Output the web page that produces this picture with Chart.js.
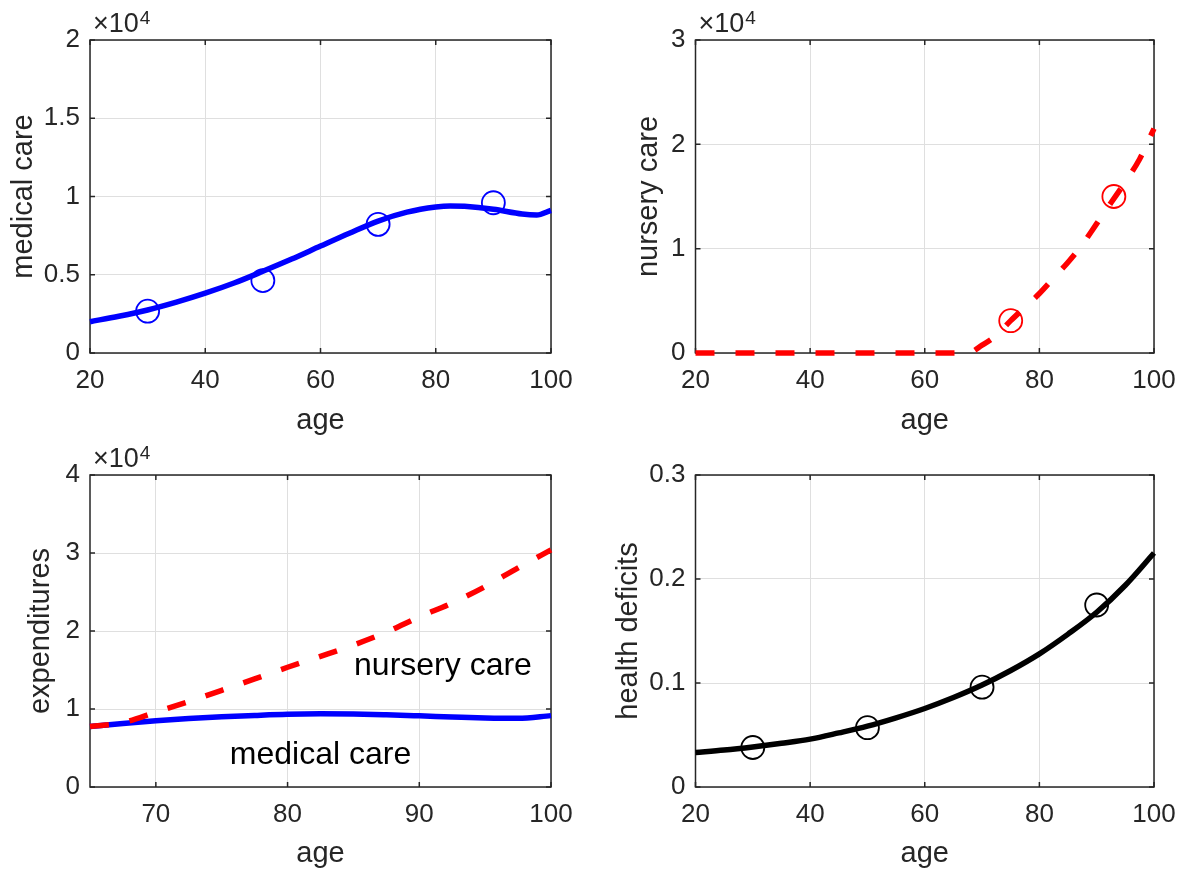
<!DOCTYPE html>
<html>
<head>
<meta charset="utf-8">
<title>medical and nursery care by age</title>
<script src="https://cdn.jsdelivr.net/npm/chart.js@4.4.0/dist/chart.umd.min.js"></script>
<style>
  html, body { margin: 0; padding: 0; background: #fff; }
  #fig { position: relative; width: 1184px; height: 873px; background: #fff; }
  .cell { position: absolute; }
</style>
</head>
<body>
<div id="fig">
  <div class="cell" style="left:0;top:0;width:592px;height:436px"><canvas id="medical"></canvas></div>
  <div class="cell" style="left:592px;top:0;width:592px;height:436px"><canvas id="nursery"></canvas></div>
  <div class="cell" style="left:0;top:436px;width:592px;height:437px"><canvas id="expenditures"></canvas></div>
  <div class="cell" style="left:592px;top:436px;width:592px;height:437px"><canvas id="deficits"></canvas></div>
</div>
<script>
// medical care (top left)
const age_medical = [20, 25, 30, 35, 40, 45, 50, 55, 60, 65, 70, 75, 80, 82.5, 85, 90, 95, 97.5, 100];
const medical_care = [2000, 2350, 2750, 3250, 3820, 4470, 5220, 6000, 6830, 7650, 8430, 9000, 9330, 9400, 9370, 9180, 8880, 8820, 9120];
const age_medical_obs = [30, 50, 70, 90];
const medical_care_obs = [2670, 4630, 8220, 9600];

// nursery care (top right)
const age_nursery = [20, 30, 40, 50, 60, 67.5, 70, 72.5, 75, 77.5, 80, 82.5, 85, 87.5, 90, 92.5, 95, 97.5, 100];
const nursery_care = [0, 0, 0, 0, 0, 0, 750, 1700, 3100, 4400, 5700, 7200, 8700, 10400, 12400, 14400, 16400, 18600, 21500];
const age_nursery_obs = [75, 93];
const nursery_care_obs = [3100, 15000];

// expenditures, age 65+ (bottom left)
const age_old = [65, 67.5, 70, 72.5, 75, 77.5, 80, 82.5, 85, 87.5, 90, 92.5, 95, 97.5, 100];
const total_old = [7750, 8250, 9600, 10950, 12400, 13850, 15350, 16750, 18200, 19850, 21800, 23600, 25700, 28100, 30400];
const medical_old = [7750, 8150, 8500, 8780, 9000, 9180, 9330, 9380, 9350, 9250, 9120, 8980, 8850, 8800, 9150];

// health deficits (bottom right)
const age_health = [20, 25, 30, 35, 40, 45, 50, 55, 60, 65, 70, 75, 80, 85, 90, 95, 100];
const health_deficits = [0.0332, 0.0355, 0.0385, 0.042, 0.046, 0.052, 0.0585, 0.0665, 0.0755, 0.086, 0.098, 0.112, 0.128, 0.147, 0.168, 0.194, 0.225];
const age_health_obs = [30, 50, 70, 90];
const health_deficits_obs = [0.038, 0.057, 0.096, 0.175];

// ticks
const ticks_age = [20, 40, 60, 80, 100];
const ticks_age_old = [70, 80, 90, 100];
const ticks_medical = [0, 5000, 10000, 15000, 20000];
const labels_medical = ['0', '0.5', '1', '1.5', '2'];
const ticks_nursery = [0, 10000, 20000, 30000];
const labels_nursery = ['0', '1', '2', '3'];
const ticks_expend = [0, 10000, 20000, 30000, 40000];
const labels_expend = ['0', '1', '2', '3', '4'];
const ticks_health = [0, 0.1, 0.2, 0.3];
const labels_health = ['0', '0.1', '0.2', '0.3'];

const FONT = '"Liberation Sans", Arial, Helvetica, sans-serif';
const AXIS = '#262626';

function pts(xs, ys) {
  return xs.map((x, i) => ({ x: x, y: ys[i] }));
}

// box, inward ticks and the x10^4 factor like matlab axes
const matlabAxes = {
  id: 'matlabAxes',
  beforeDatasetsDraw(chart, args, opts) {
    const { ctx, chartArea: a, scales: { x, y } } = chart;
    ctx.save();
    ctx.strokeStyle = AXIS;
    ctx.lineWidth = 1.5;
    ctx.beginPath();
    x.ticks.forEach(t => {
      const px = x.getPixelForValue(t.value);
      ctx.moveTo(px, a.bottom); ctx.lineTo(px, a.bottom - 5);
      ctx.moveTo(px, a.top); ctx.lineTo(px, a.top + 5);
    });
    y.ticks.forEach(t => {
      const py = y.getPixelForValue(t.value);
      ctx.moveTo(a.left, py); ctx.lineTo(a.left + 5, py);
      ctx.moveTo(a.right, py); ctx.lineTo(a.right - 5, py);
    });
    ctx.stroke();
    ctx.strokeRect(a.left, a.top, a.right - a.left, a.bottom - a.top);
    if (opts.exponent) {
      ctx.fillStyle = AXIS;
      ctx.textAlign = 'left';
      ctx.textBaseline = 'alphabetic';
      ctx.font = '27px ' + FONT;
      ctx.fillText('\u00d710', a.left + 3, a.top - 8);
      const w = ctx.measureText('\u00d710').width;
      ctx.font = '19px ' + FONT;
      ctx.fillText(opts.exponent, a.left + 4 + w, a.top - 16);
    }
    ctx.restore();
  },
  afterDatasetsDraw(chart, args, opts) {
    if (!opts.labels) return;
    const { ctx, scales: { x, y } } = chart;
    ctx.save();
    ctx.fillStyle = '#000';
    ctx.font = '32px ' + FONT;
    ctx.textAlign = 'center';
    ctx.textBaseline = 'alphabetic';
    opts.labels.forEach(l => {
      ctx.fillText(l.text, x.getPixelForValue(l.x), y.getPixelForValue(l.y));
    });
    ctx.restore();
  }
};

function curve(data, color, dashed) {
  return {
    data: data,
    borderColor: color,
    borderWidth: 5.5,
    borderDash: dashed ? [19, 21] : [],
    borderCapStyle: 'butt',
    borderJoinStyle: 'round',
    pointRadius: 0,
    cubicInterpolationMode: 'monotone',
    fill: false,
    clip: false
  };
}

function circles(data, color) {
  return {
    data: data,
    showLine: false,
    pointStyle: 'circle',
    pointRadius: 11.5,
    pointBorderWidth: 1.8,
    pointBorderColor: color,
    pointBackgroundColor: 'rgba(0,0,0,0)',
    clip: false
  };
}

function makeChart(id, datasets, o) {
  return new Chart(document.getElementById(id), {
    type: 'line',
    data: { datasets: datasets },
    options: {
      responsive: true,
      maintainAspectRatio: false,
      animation: false,
      events: [],
      layout: { padding: { top: o.padTop, right: o.padRight, left: 0, bottom: 0 } },
      plugins: {
        legend: { display: false },
        tooltip: { enabled: false },
        matlabAxes: { exponent: o.exponent, labels: o.labels }
      },
      scales: {
        x: {
          type: 'linear',
          min: o.xMin, max: o.xMax,
          afterBuildTicks: s => { s.ticks = o.xTicks.map(v => ({ value: v })); },
          afterFit: s => { s.height = o.xHeight; s.paddingLeft = 0; s.paddingRight = 0; },
          grid: { color: '#dfdfdf', lineWidth: 1, drawTicks: false },
          border: { display: false },
          ticks: { color: AXIS, padding: 15, maxRotation: 0, font: { family: FONT, size: 26, lineHeight: 1 } },
          title: { display: true, text: 'age', color: AXIS, padding: { top: 0, bottom: o.xTitlePad }, font: { family: FONT, size: 29, lineHeight: 1 } }
        },
        y: {
          type: 'linear',
          min: o.yMin, max: o.yMax,
          afterBuildTicks: s => { s.ticks = o.yTicks.map(v => ({ value: v })); },
          afterFit: s => { s.width = o.yWidth; },
          grid: { color: '#dfdfdf', lineWidth: 1, drawTicks: false },
          border: { display: false },
          ticks: {
            color: AXIS, padding: 10,
            font: { family: FONT, size: 26, lineHeight: 1 },
            callback: (v, i) => o.yLabels[i]
          },
          title: { display: true, text: o.yTitle, color: AXIS, padding: { top: o.yTitlePad, bottom: 0 }, font: { family: FONT, size: 29, lineHeight: 1 } }
        }
      }
    },
    plugins: [matlabAxes]
  });
}

makeChart('medical', [
  circles(pts(age_medical_obs, medical_care_obs), '#0000ff'),
  curve(pts(age_medical, medical_care), '#0000ff', false)
], {
  padTop: 40, padRight: 41, xHeight: 83, yWidth: 90, xTitlePad: 1, yTitlePad: 9,
  xMin: 20, xMax: 100, xTicks: ticks_age,
  yMin: 0, yMax: 20000, yTicks: ticks_medical, yLabels: labels_medical,
  yTitle: 'medical care', exponent: '4'
});

makeChart('nursery', [
  circles(pts(age_nursery_obs, nursery_care_obs), '#ff0000'),
  curve(pts(age_nursery, nursery_care), '#ff0000', true)
], {
  padTop: 40, padRight: 30, xHeight: 83, yWidth: 103.5, xTitlePad: 1, yTitlePad: 42,
  xMin: 20, xMax: 100, xTicks: ticks_age,
  yMin: 0, yMax: 30000, yTicks: ticks_nursery, yLabels: labels_nursery,
  yTitle: 'nursery care', exponent: '4'
});

makeChart('expenditures', [
  curve(pts(age_old, total_old), '#ff0000', true),
  curve(pts(age_old, medical_old), '#0000ff', false)
], {
  padTop: 39, padRight: 41, xHeight: 86, yWidth: 90, xTitlePad: 4.5, yTitlePad: 26,
  xMin: 65, xMax: 100, xTicks: ticks_age_old,
  yMin: 0, yMax: 40000, yTicks: ticks_expend, yLabels: labels_expend,
  yTitle: 'expenditures', exponent: '4',
  labels: [
    { text: 'nursery care', x: 91.8, y: 14400 },
    { text: 'medical care', x: 82.5, y: 2900 }
  ]
});

makeChart('deficits', [
  circles(pts(age_health_obs, health_deficits_obs), '#000000'),
  curve(pts(age_health, health_deficits), '#000000', false)
], {
  padTop: 39, padRight: 30, xHeight: 86, yWidth: 103.5, xTitlePad: 4.5, yTitlePad: 22.5,
  xMin: 20, xMax: 100, xTicks: ticks_age,
  yMin: 0, yMax: 0.3, yTicks: ticks_health, yLabels: labels_health,
  yTitle: 'health deficits'
});
</script>
</body>
</html>
